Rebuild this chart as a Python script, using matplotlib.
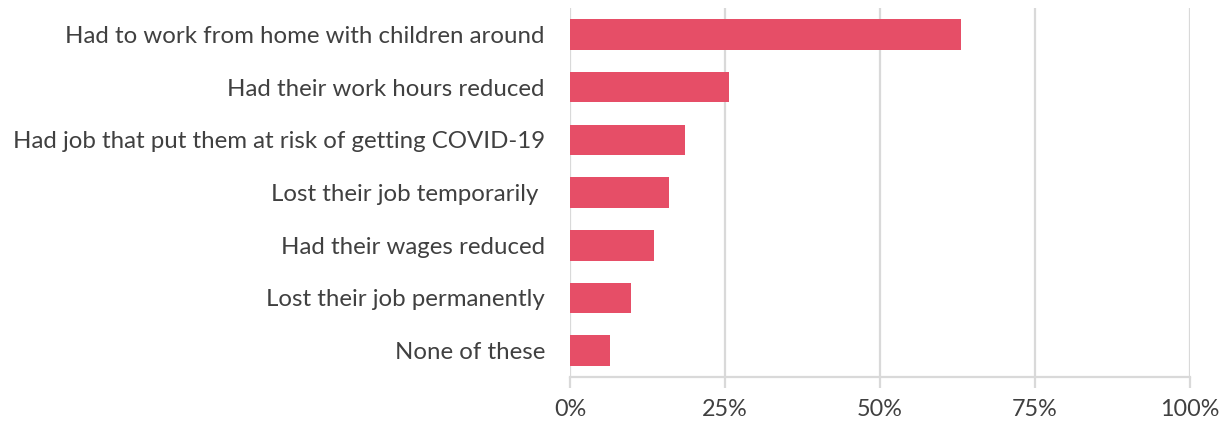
import matplotlib.pyplot as plt
from matplotlib.ticker import PercentFormatter

categories = [
    "Had to work from home with children around",
    "Had their work hours reduced",
    "Had job that put them at risk of getting COVID-19",
    "Lost their job temporarily ",
    "Had their wages reduced",
    "Lost their job permanently",
    "None of these",
]
shares = [63.0, 25.6, 18.6, 15.9, 13.6, 9.9, 6.4]
x_ticks = [0, 25, 50, 75, 100]

plt.rcParams['font.family'] = ['Lato', 'DejaVu Sans']
text_color = '#404040'
grid_color = '#d9d9d9'

fig = plt.figure(figsize=(12.21, 4.23), dpi=100)
ax = fig.add_axes([0.4668, 0.1087, 0.5078, 0.8723])

y = range(len(categories))
ax.barh(y, shares, height=0.58, color='#e64e67', zorder=3)

ax.set_ylim(len(categories) - 0.5, -0.5)
ax.set_xlim(0, 100)
ax.set_yticks(list(y))
ax.set_yticklabels(categories, fontsize=17.3, color=text_color)
ax.set_xticks(x_ticks)
ax.xaxis.set_major_formatter(PercentFormatter(decimals=0))

# vertical gridlines only, light grey like the axis line
ax.grid(axis='x', color=grid_color, linewidth=1.6, zorder=0)
for side in ['top', 'right', 'left']:
    ax.spines[side].set_visible(False)
ax.spines['bottom'].set_color(grid_color)
ax.spines['bottom'].set_linewidth(1.6)

ax.tick_params(axis='y', length=0, pad=18)
ax.tick_params(axis='x', length=8, width=1.6, color=grid_color,
               labelsize=16.8, labelcolor=text_color, pad=8)

fig.savefig('out.png', dpi=100)
